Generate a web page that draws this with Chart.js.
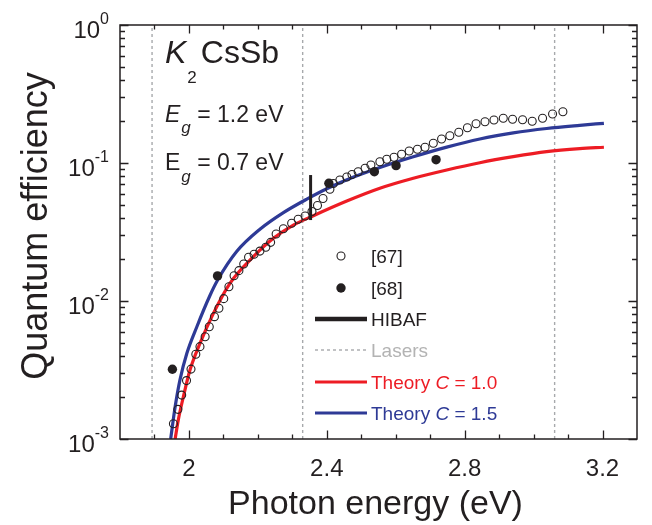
<!DOCTYPE html>
<html>
<head>
<meta charset="utf-8">
<title>K2CsSb quantum efficiency</title>
<script src="https://cdn.jsdelivr.net/npm/chart.js@4.4.1/dist/chart.umd.min.js"></script>
<style>
  body { margin: 0; background: #fff; }
  canvas { display: block; }
</style>
</head>
<body>
<canvas id="qeChart" width="652" height="525"></canvas>
<script>
// values (photon energy in eV, QE)
const ref67X = [1.955, 1.968, 1.979, 1.993, 2.006, 2.020, 2.032, 2.047, 2.059, 2.074,
  2.087, 2.101, 2.116, 2.131, 2.145, 2.159, 2.173, 2.189, 2.206, 2.223,
  2.237, 2.253, 2.274, 2.298, 2.317, 2.337, 2.357, 2.373, 2.389, 2.409,
  2.419, 2.438, 2.458, 2.473, 2.491, 2.511, 2.528, 2.554, 2.574, 2.595,
  2.617, 2.639, 2.663, 2.685, 2.709, 2.733, 2.757, 2.783, 2.808, 2.833,
  2.859, 2.885, 2.912, 2.939, 2.968, 2.996, 3.026, 3.055, 3.085];
const ref67Y = [0.00129, 0.00164, 0.00208, 0.00265, 0.00321, 0.00411, 0.00467, 0.00551, 0.00651, 0.0077,
  0.00885, 0.0104, 0.0127, 0.01525, 0.0166, 0.01854, 0.02074, 0.0218, 0.0230, 0.0245,
  0.0266, 0.0306, 0.0334, 0.0366, 0.0391, 0.0413, 0.0445, 0.0492, 0.0553, 0.0645,
  0.0710, 0.0753, 0.0792, 0.0825, 0.0865, 0.0915, 0.0968, 0.1021, 0.1064, 0.1100,
  0.1156, 0.1222, 0.1257, 0.1300, 0.1389, 0.1492, 0.1577, 0.1669, 0.1802, 0.1927,
  0.1992, 0.2049, 0.2109, 0.2073, 0.2060, 0.2005, 0.2109, 0.2265, 0.2353];

const ref68X = [1.952, 2.083, 2.406, 2.538, 2.601, 2.717];
const ref68Y = [0.0032, 0.0152, 0.0713, 0.0865, 0.0957, 0.1057];

const theory10X = [1.960, 1.969, 1.984, 2.003, 2.032, 2.071, 2.119, 2.187, 2.245, 2.303,
  2.361, 2.458, 2.554, 2.651, 2.748, 2.844, 2.941, 3.038, 3.134, 3.204];
const theory10Y = [0.001, 0.00137, 0.00203, 0.00316, 0.00493, 0.00814, 0.01343, 0.02094, 0.02846, 0.0355,
  0.0415, 0.0530, 0.0656, 0.0775, 0.0890, 0.1005, 0.1111, 0.1208, 0.1270, 0.130];

const theory15X = [1.947, 1.960, 1.974, 1.994, 2.023, 2.061, 2.083, 2.139, 2.206, 2.273,
  2.342, 2.406, 2.476, 2.554, 2.651, 2.748, 2.844, 2.941, 3.038, 3.134, 3.204];
const theory15Y = [0.001, 0.00171, 0.00268, 0.00418, 0.00651, 0.01096, 0.01413, 0.0229, 0.0331, 0.0435,
  0.0547, 0.0661, 0.0787, 0.0927, 0.1109, 0.1303, 0.1493, 0.1652, 0.1778, 0.1875, 0.194];

const hibafX = [2.353, 2.353];
const hibafY = [0.0386, 0.0818];
const laserX = [1.893, 2.33, 3.061];

const xTicks = [2, 2.4, 2.8, 3.2];
const xTickLabels = ["2", "2.4", "2.8", "3.2"];
const yTicks = [0.001, 0.01, 0.1, 1];
const yTickExp = ["-3", "-2", "-1", "0"];

const ink = "#231f20";
const red = "#ed1c24";
const blue = "#2e3a96";
const grey = "#a7a9ac";
const family = "'Liberation Sans', Arial, sans-serif";

const pts = (xs, ys) => xs.map((x, i) => ({ x: x, y: ys[i] }));
const fontOf = (size, italic) => (italic ? "italic " : "") + size + "px " + family;

// runs: [text, size, italic, dy, dx]
function drawRuns(ctx, x, y, runs, color) {
  ctx.fillStyle = color;
  ctx.textAlign = "left";
  ctx.textBaseline = "alphabetic";
  runs.forEach(r => {
    ctx.font = fontOf(r[1], r[2]);
    x += r[4] || 0;
    ctx.fillText(r[0], x, y + (r[3] || 0));
    x += ctx.measureText(r[0]).width;
  });
}

const datasets = [
  {
    label: "[67]",
    data: pts(ref67X, ref67Y),
    pointStyle: "circle",
    pointRadius: 4,
    pointBorderWidth: 1.1,
    pointBorderColor: ink,
    pointBackgroundColor: "rgba(0,0,0,0)",
    showLine: false,
    order: 1
  },
  {
    label: "[68]",
    data: pts(ref68X, ref68Y),
    pointRadius: 4.7,
    pointBorderWidth: 0,
    pointBackgroundColor: ink,
    showLine: false,
    order: 0
  },
  {
    label: "HIBAF",
    data: pts(hibafX, hibafY),
    showLine: true,
    borderColor: ink,
    borderWidth: 3,
    pointRadius: 0,
    order: 2
  },
  {
    label: "Theory C = 1.0",
    data: pts(theory10X, theory10Y),
    showLine: true,
    borderColor: red,
    borderWidth: 3.2,
    pointRadius: 0,
    cubicInterpolationMode: "monotone",
    order: 3
  },
  {
    label: "Theory C = 1.5",
    data: pts(theory15X, theory15Y),
    showLine: true,
    borderColor: blue,
    borderWidth: 3.2,
    pointRadius: 0,
    cubicInterpolationMode: "monotone",
    order: 4
  }
];

laserX.forEach((lx, i) => {
  datasets.push({
    label: i === 0 ? "Lasers" : "",
    data: [{ x: lx, y: 0.001 }, { x: lx, y: 1 }],
    showLine: true,
    borderColor: grey,
    borderWidth: 1.4,
    borderDash: [3, 3],
    pointRadius: 0,
    order: 10
  });
});

// frame, mirrored ticks, labels, annotations and legend
const decor = {
  id: "decor",
  afterDraw(chart) {
    const { ctx, chartArea: a, scales: { x, y } } = chart;
    ctx.save();
    ctx.strokeStyle = ink;
    ctx.lineWidth = 1.5;
    ctx.strokeRect(a.left, a.top, a.right - a.left, a.bottom - a.top);

    ctx.lineWidth = 1.3;
    ctx.beginPath();
    for (let i = 19; i <= 32; i++) {
      const v = i / 10;
      const px = Math.round(x.getPixelForValue(v)) + 0.5;
      const len = xTicks.some(t => Math.abs(t - v) < 1e-9) ? 8.5 : 4.5;
      ctx.moveTo(px, a.bottom); ctx.lineTo(px, a.bottom - len);
      ctx.moveTo(px, a.top); ctx.lineTo(px, a.top + len);
    }
    for (let e = -3; e <= 0; e++) {
      for (let m = 1; m <= 9; m++) {
        if (e === 0 && m > 1) break;
        const py = Math.round(y.getPixelForValue(m * Math.pow(10, e))) + 0.5;
        const len = m === 1 ? 8.5 : 5;
        ctx.moveTo(a.left, py); ctx.lineTo(a.left + len, py);
        ctx.moveTo(a.right, py); ctx.lineTo(a.right - len, py);
      }
    }
    ctx.stroke();

    // tick labels
    ctx.fillStyle = ink;
    ctx.textAlign = "center";
    ctx.textBaseline = "alphabetic";
    ctx.font = fontOf(24, false);
    xTicks.forEach((t, i) => ctx.fillText(xTickLabels[i], x.getPixelForValue(t), 476));

    yTicks.forEach((t, i) => {
      const py = y.getPixelForValue(t);
      ctx.font = fontOf(16, false);
      const ew = ctx.measureText(yTickExp[i]).width;
      const ex = 109 - ew;
      ctx.textAlign = "left";
      ctx.fillText(yTickExp[i], ex, py - 1);
      ctx.font = fontOf(24, false);
      ctx.textAlign = "right";
      ctx.fillText("10", ex, py + 13);
    });

    // axis titles
    ctx.textAlign = "center";
    ctx.font = fontOf(34, false);
    ctx.fillText("Photon energy (eV)", (a.left + a.right) / 2 - 3, 514);
    ctx.save();
    ctx.translate(47, (a.top + a.bottom) / 2 - 6);
    ctx.rotate(-Math.PI / 2);
    ctx.font = fontOf(36, false);
    ctx.fillText("Quantum efficiency", 0, 0);
    ctx.restore();

    // annotations
    drawRuns(ctx, 165, 63, [["K", 32, true], ["2", 17, false, 20, 1], ["CsSb", 32, false, 0, 4]], ink);
    drawRuns(ctx, 165, 122, [["E", 23, true], ["g", 17, true, 11, 1], [" = 1.2 eV", 23, false]], ink);
    drawRuns(ctx, 165, 170, [["E", 23, false], ["g", 17, true, 12, 1], [" = 0.7 eV", 23, false]], ink);

    // legend
    const lx0 = 315, lx1 = 367, mx = 341, tx = 371;
    const rows = [256, 288, 319, 350, 382, 413];
    ctx.beginPath();
    ctx.arc(mx, rows[0], 4, 0, 2 * Math.PI);
    ctx.lineWidth = 1.1;
    ctx.strokeStyle = ink;
    ctx.stroke();
    ctx.beginPath();
    ctx.arc(mx, rows[1], 4.7, 0, 2 * Math.PI);
    ctx.fill();
    const seg = (py, color, w, dash) => {
      ctx.beginPath();
      ctx.setLineDash(dash || []);
      ctx.strokeStyle = color;
      ctx.lineWidth = w;
      ctx.moveTo(lx0, py); ctx.lineTo(lx1, py);
      ctx.stroke();
      ctx.setLineDash([]);
    };
    seg(rows[2], ink, 4.5);
    seg(rows[3], grey, 1.4, [3, 3]);
    seg(rows[4], red, 3.2);
    seg(rows[5], blue, 3.2);
    drawRuns(ctx, tx, rows[0] + 7, [["[67]", 19, false]], ink);
    drawRuns(ctx, tx, rows[1] + 7, [["[68]", 19, false]], ink);
    drawRuns(ctx, tx, rows[2] + 7, [["HIBAF", 19, false]], ink);
    drawRuns(ctx, tx, rows[3] + 7, [["Lasers", 19, false]], "#b3b3b3");
    drawRuns(ctx, tx, rows[4] + 7, [["Theory ", 19, false], ["C", 19, true], [" = 1.0", 19, false]], red);
    drawRuns(ctx, tx, rows[5] + 7, [["Theory ", 19, false], ["C", 19, true], [" = 1.5", 19, false]], blue);
    ctx.restore();
  }
};

new Chart(document.getElementById("qeChart"), {
  type: "scatter",
  data: { datasets: datasets },
  options: {
    responsive: false,
    animation: false,
    devicePixelRatio: 1,
    layout: { padding: { left: 120, right: 15, top: 25, bottom: 86 } },
    plugins: { legend: { display: false }, tooltip: { enabled: false } },
    scales: {
      x: { type: "linear", min: 1.8, max: 3.3, display: false },
      y: { type: "logarithmic", min: 0.001, max: 1, display: false }
    }
  },
  plugins: [decor]
});
</script>
</body>
</html>
